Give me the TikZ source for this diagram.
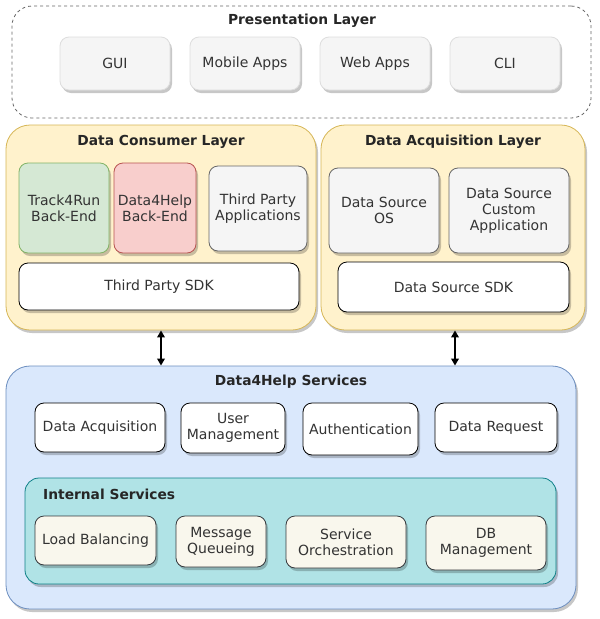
\documentclass[tikz,border=0pt]{standalone}
\usepackage{fontspec}
\setmainfont{DejaVu Sans}
\usetikzlibrary{shadows,arrows.meta}
\definecolor{txt}{HTML}{333333}
\definecolor{grayfill}{HTML}{F5F5F5}
\definecolor{graydraw}{HTML}{666666}
\definecolor{presdraw}{HTML}{DDDDDD}
\definecolor{yfill}{HTML}{FFF2CC}
\definecolor{ydraw}{HTML}{D6B656}
\definecolor{gfill}{HTML}{D5E8D4}
\definecolor{gdraw}{HTML}{82B366}
\definecolor{rfill}{HTML}{F8CECC}
\definecolor{rdraw}{HTML}{B85450}
\definecolor{bfill}{HTML}{DAE8FC}
\definecolor{bdraw}{HTML}{6C8EBF}
\definecolor{tfill}{HTML}{B0E3E6}
\definecolor{tdraw}{HTML}{0E8088}
\definecolor{cfill}{HTML}{F9F7ED}
\definecolor{cdraw}{HTML}{36393D}
\tikzset{
  shad/.style={drop shadow={shadow xshift=2pt, shadow yshift=-3pt, opacity=0.22, fill=black}},
  base/.style={align=center, inner sep=0pt, font=\fontsize{14}{16}\selectfont, text=txt, line width=0.8pt},
  box/.style={base, shad, rounded corners=9pt},
  container/.style={base, shad, rounded corners=24pt},
  title/.style={font=\bfseries\fontsize{13.8}{16}\selectfont, text=black!85, inner sep=0pt},
  presbox/.style={box, fill=grayfill, draw=presdraw},
  graybox/.style={box, fill=grayfill, draw=graydraw},
  whitebox/.style={box, fill=white, draw=black},
  intbox/.style={box, fill=cfill, draw=cdraw},
  arr/.style={{Triangle[length=7pt,width=7.5pt]}-{Triangle[length=7pt,width=7.5pt]}, line width=2pt, black},
}
\begin{document}
\begin{tikzpicture}[x=1pt,y=-1pt]
\useasboundingbox[fill=white] (0,0) rectangle (600,619);
% Presentation layer
\node[base, rounded corners=20pt, draw=graydraw, dashed, fill=white, minimum width=579, minimum height=112] (pres) at (301.5,62) {};
\node[title] (prest) at (302,21) {Presentation Layer};
\node[presbox, minimum width=110, minimum height=53] (gui) at (115,63.5) {GUI};
\node[presbox, minimum width=110, minimum height=53] (mob) at (245,63.5) {Mobile Apps};
\node[presbox, minimum width=110, minimum height=53] (web) at (375,63.5) {Web Apps};
\node[presbox, minimum width=110, minimum height=53] (cli) at (505,63.5) {CLI};
% Data consumer layer
\node[container, fill=yfill, draw=ydraw, minimum width=310, minimum height=205] (cons) at (161,227.5) {};
\node[title] (const) at (161,142) {Data Consumer Layer};
\node[box, fill=gfill, draw=gdraw, minimum width=90, minimum height=90] (t4r) at (64,208) {Track4Run\\Back-End};
\node[box, fill=rfill, draw=rdraw, minimum width=82, minimum height=90] (d4h) at (155,208) {Data4Help\\Back-End};
\node[graybox, minimum width=98, minimum height=85] (tpa) at (258,208.5) {Third Party\\Applications};
\node[whitebox, minimum width=280, minimum height=47] (tpsdk) at (159,286.5) {Third Party SDK};
% Data acquisition layer
\node[container, fill=yfill, draw=ydraw, minimum width=264, minimum height=205] (acq) at (453,227.5) {};
\node[title] (acqt) at (453,142) {Data Acquisition Layer};
\node[graybox, minimum width=110, minimum height=85] (dsos) at (384,210.5) {Data Source\\OS};
\node[graybox, minimum width=120, minimum height=85] (dsca) at (509,210.5) {Data Source\\Custom\\Application};
\node[whitebox, minimum width=231, minimum height=50] (dssdk) at (453.5,287) {Data Source SDK};
% Data4Help services
\node[container, fill=bfill, draw=bdraw, minimum width=570, minimum height=243] (svc) at (291,487.5) {};
\node[title] (svct) at (291,382) {Data4Help Services};
\node[whitebox, minimum width=130, minimum height=49] (da) at (100,427.5) {Data Acquisition};
\node[whitebox, minimum width=104, minimum height=50] (um) at (233,428) {User\\Management};
\node[whitebox, minimum width=115, minimum height=52] (au) at (360.5,429) {Authentication};
\node[whitebox, minimum width=122, minimum height=49] (dr) at (496,427.5) {Data Request};
% Internal services
\node[base, shad, rounded corners=14pt, fill=tfill, draw=tdraw, minimum width=531, minimum height=106] (int) at (290.5,531) {};
\node[title, anchor=west] (intt) at (43,494) {Internal Services};
\node[intbox, minimum width=121, minimum height=49] (lb) at (95.5,540.5) {Load Balancing};
\node[intbox, minimum width=90, minimum height=51] (mq) at (221,541.5) {Message\\Queueing};
\node[intbox, minimum width=120, minimum height=52] (so) at (346,542) {Service\\Orchestration};
\node[intbox, minimum width=120, minimum height=54] (db) at (486,543) {DB\\Management};
% connectors
\draw[arr] (cons.south) -- (cons.south |- svc.north);
\draw[arr] ([xshift=2pt]acq.south) -- ([xshift=2pt]acq.south |- svc.north);
\end{tikzpicture}
\end{document}
